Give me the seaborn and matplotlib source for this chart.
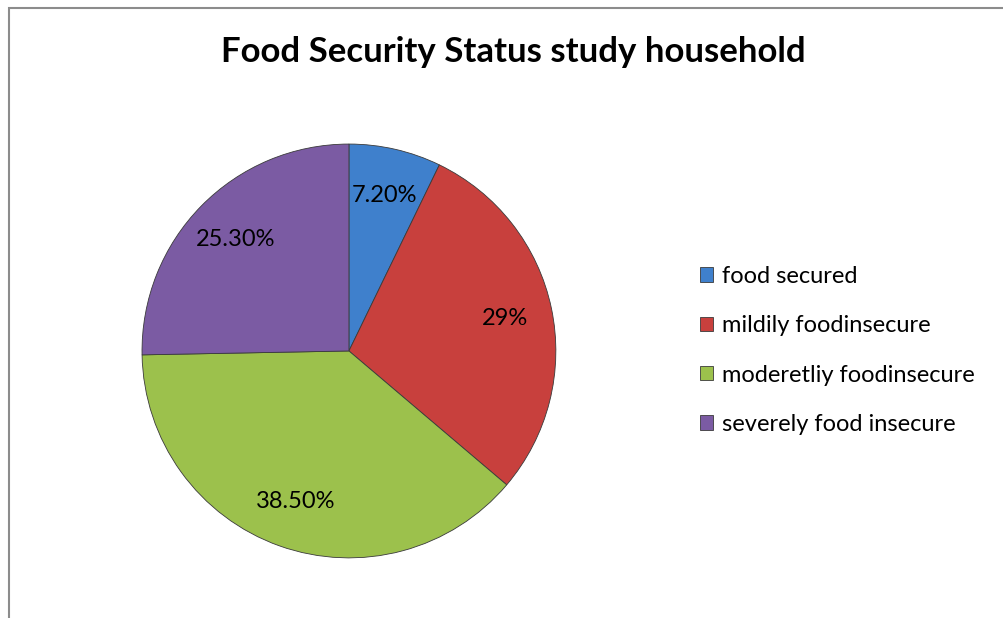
import matplotlib
matplotlib.use("Agg")
import matplotlib.pyplot as plt
import seaborn as sns
from matplotlib.patches import Rectangle

# Data
categories = ["food secured", "mildily foodinsecure", "moderetliy foodinsecure", "severely food insecure"]
shares = [7.2, 29.0, 38.5, 25.3]
pct_labels = ["7.20%", "29%", "38.50%", "25.30%"]
colors = ["#3f80cc", "#c8403d", "#9cc14c", "#7b5ba3"]

sns.set_theme(style="white")
plt.rcParams['font.family'] = ['Lato', 'DejaVu Sans']
plt.rcParams['text.color'] = 'black'

fig = plt.figure(figsize=(10.04, 6.18), dpi=100)

# outer chart frame (Excel style), partly cut off at right/bottom
fig.patches.append(Rectangle((9 / 1004, -0.1), 1.2, 1.1 - 8 / 618,
                             transform=fig.transFigure, fill=False,
                             edgecolor="#8c8c8c", linewidth=1.5))

ax = fig.add_axes([0.1394, 0.0939, 0.4163, 0.6764])
wedges, texts, autotexts = ax.pie(
    shares, colors=colors, startangle=90, counterclock=False,
    autopct="", pctdistance=0.77,
    wedgeprops=dict(edgecolor="#3a3a3a", linewidth=0.6),
    textprops=dict(fontsize=17, color="black"))
for t, lab in zip(autotexts, pct_labels):
    t.set_text(lab)
ax.set_xlim(-1.01, 1.01)
ax.set_ylim(-1.01, 1.01)
ax.set_aspect("equal")

fig.text(0.511, 0.916, "Food Security Status study household",
         ha="center", va="center", fontsize=25, fontweight="bold", color="black")

fig.legend(wedges, categories, loc="center left",
           bbox_to_anchor=(0.676, 0.433), frameon=False,
           fontsize=17, handlelength=0.55, handleheight=0.55,
           handletextpad=0.4, labelspacing=1.2, labelcolor="black")

fig.savefig("out.png", dpi=100)
